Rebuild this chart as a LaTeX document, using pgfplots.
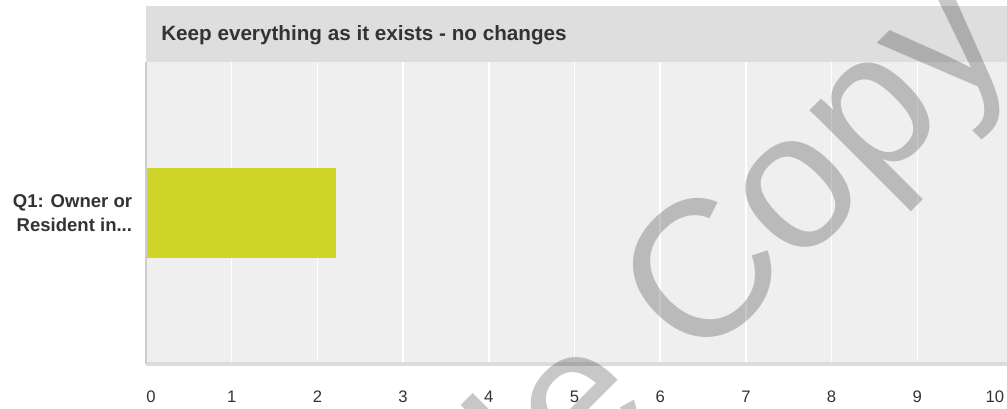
\documentclass[border=0pt]{standalone}
\usepackage{pgfplots}
\pgfplotsset{compat=1.18}
\usepackage{fontspec}
\setmainfont{Liberation Sans}
\definecolor{txt}{HTML}{333333}
\definecolor{plotbg}{HTML}{EFEFEF}
\definecolor{headbg}{HTML}{DEDEDE}
\definecolor{barc}{RGB}{207,213,40}
\definecolor{yline}{HTML}{CCCCCC}
\definecolor{xline}{HTML}{DCDCDC}
\begin{document}
\begin{tikzpicture}[x=0.75pt,y=0.75pt]
\useasboundingbox (0,0) rectangle (1007,408);
\begin{scope}
\clip (0,0) rectangle (1007,408);
\fill[headbg] (146,346) rectangle (1007,402);
\node[anchor=base west, inner sep=0pt, text=txt, font=\fontsize{15.5}{18}\selectfont\bfseries] at (161,368) {Keep everything as it exists - no changes};
\begin{axis}[at={(109.5pt,33pt)}, anchor=south west, scale only axis, width=645.75pt, height=226.5pt,
 xbar, xmin=0, xmax=10.047, ymin=-1, ymax=1,
 axis background/.style={fill=plotbg},
 axis line style={draw=none}, tick style={draw=none},
 xmajorgrids, major grid style={white, line width=1.1pt},
 xtick={0,1,2,3,4,5,6,7,8,9}, xticklabels={\hspace*{7.5pt}0,1,2,3,4,5,6,7,8,9},
 extra x ticks={10}, extra x tick labels={10\hspace*{12pt}}, extra x tick style={grid=none},
 xticklabel style={anchor=center, yshift=-24.75pt, inner sep=0pt, text=txt, font=\fontsize{12.5}{15}\selectfont},
 ytick={0}, yticklabels={{Q1: Owner or\\Resident in{...}}},
 yticklabel style={align=right, anchor=east, inner sep=0pt, xshift=-6pt, text=txt, font=\fontsize{13.9}{18}\selectfont\bfseries},
 clip=false]
\addplot[fill=barc, draw=none, bar width=67.5pt] coordinates {(2.22,0)};
\draw[xline, line width=3pt] (rel axis cs:0,0) -- (rel axis cs:1,0);
\draw[yline, line width=1.5pt] (rel axis cs:0,0) -- (rel axis cs:0,1);
\end{axis}
\node[rotate=45, anchor=base west, inner sep=0pt, text=black, text opacity=0.22, font=\fontsize{146}{146}\selectfont] at (697,39) {Copy};
\node[rotate=45, anchor=base east, inner sep=0pt, text=black, text opacity=0.22, font=\fontsize{146}{146}\selectfont] at (697,39) {Sample\hspace*{40.6pt}};
\end{scope}
\end{tikzpicture}
\end{document}
